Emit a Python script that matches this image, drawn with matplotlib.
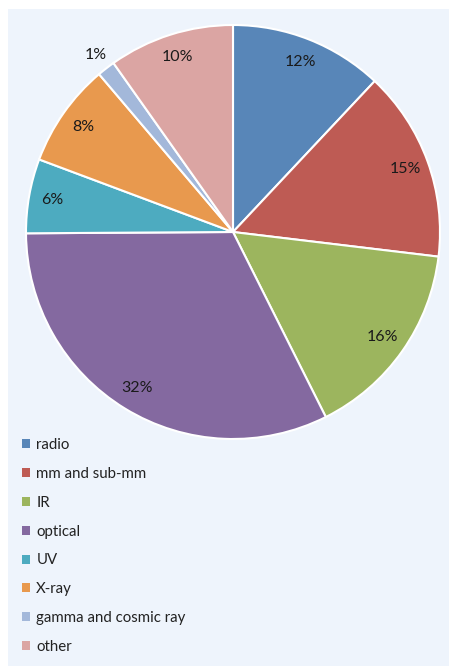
import matplotlib
matplotlib.use("Agg")
import matplotlib.pyplot as plt
from matplotlib.patches import Rectangle, Patch
import numpy as np

# share of papers per band
bands = ["radio", "mm and sub-mm", "IR", "optical", "UV", "X-ray",
         "gamma and cosmic ray", "other"]
shares = [12, 14.9, 15.7, 32.3, 5.8, 8.1, 1.4, 9.8]
colors = ["#5886b8", "#be5b54", "#9cb55e", "#8469a0", "#4dabc0",
          "#e8994e", "#a3b8da", "#dba5a3"]

plt.rcParams['font.family'] = ['Lato', 'DejaVu Sans']

W, H = 449, 666
fig = plt.figure(figsize=(W / 100, H / 100), dpi=100)
fig.patch.set_facecolor("white")

# light panel behind everything
fig.patches.append(Rectangle((8 / W, 0), 1 - 8 / W, 1 - 9 / H,
                             transform=fig.transFigure, facecolor="#eef4fc",
                             edgecolor="none", zorder=-10))

# pie: centre (233, 232) px, radius 207 px
cx, cy, r = 233, 232, 207
ax = fig.add_axes([(cx - r) / W, (H - cy - r) / H, 2 * r / W, 2 * r / H])
ax.set_zorder(1)
wedges, _ = ax.pie(shares, colors=colors, startangle=90, counterclock=False,
                   wedgeprops=dict(edgecolor="white", linewidth=1.5))
ax.set_xlim(-1, 1)
ax.set_ylim(-1, 1)
ax.set_aspect("equal")
ax.axis("off")

# percentage labels, Excel "inside end" style
start = 90.0
total = sum(shares)
for s in shares:
    mid = start - s / total * 360 / 2
    start -= s / total * 360
    d = 1.08 if s < 3 else 0.885
    ax.text(d * np.cos(np.radians(mid)), d * np.sin(np.radians(mid)),
            f"{round(s)}%", ha="center", va="center", fontsize=11.5,
            color="#1a1a1a")

handles = [Patch(facecolor=c, edgecolor="none") for c in colors]
fig.legend(handles, bands, loc="upper left",
           bbox_to_anchor=(22 / W, 1 - 438 / H), frameon=False,
           fontsize=10.8, handlelength=0.55, handleheight=0.55,
           handletextpad=0.4, labelspacing=0.99, borderaxespad=0,
           borderpad=0, labelcolor="#222222")

fig.savefig("out.png", dpi=100)
